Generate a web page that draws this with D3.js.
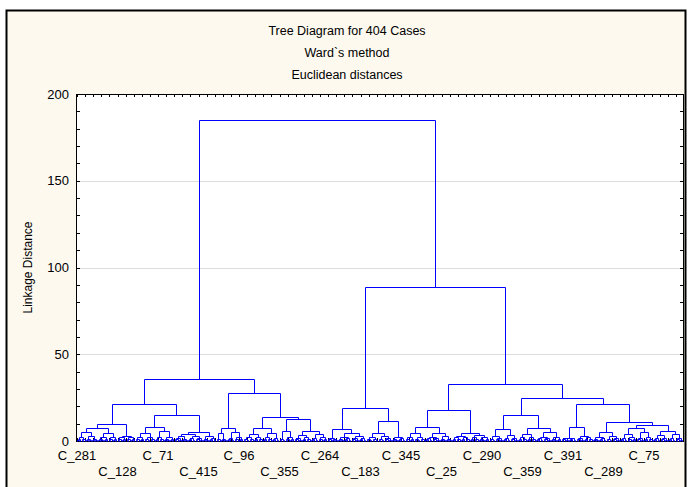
<!DOCTYPE html>
<html lang="en">
  <head>
    <meta charset="utf-8">
    <title>Tree Diagram for 404 Cases</title>
    <style>
      body { margin: 0; background: #ffffff; }
      svg { display: block; font-family: "Liberation Sans", Arial, sans-serif; }
    </style>
    <script src="https://cdn.jsdelivr.net/npm/d3@7"></script>
  </head>
  <body>
    <svg id="chart" width="689" height="487"></svg>
    <script>
      // ---- data ----
      var titleLines = ["Tree Diagram for 404 Cases", "Ward`s method", "Euclidean distances"];
      var yTitle = "Linkage Distance";
      var yTicks = [0, 50, 100, 150, 200];
      var caseLabels = ["C_281", "C_128", "C_71", "C_415", "C_96", "C_355", "C_264", "C_183",
                        "C_345", "C_25", "C_290", "C_359", "C_391", "C_289", "C_75"];
      var labelEvery = 27;   // one case label every 27 leaves

      // merge tree: [linkage distance, left, right]; a plain number n = small group of n cases
      var leftBranch = [35.7,
        [21.3,
          [9.6,
            [7.3, [5.4, 6, 8], [4.6, 7, 6]],
            [2.9, 6, 6]],
          [15,
            [7.9, [4.6, 6, 7], [5.6, 6, 7]],
            [5, [4.2, 9, 10], [3, 4, 5]]]],
        [27.7,
          [7.6, [4.5, 3, 4], [5.3, 5, 6]],
          [14,
            [7.3, [3.8, 7, 6], [4.8, 6, 5]],
            [12.5, [5.8, 4, 6], [5.8, [3.2, 5, 6], [4, 5, 6]]]]]];

      var rightBranch = [89,
        [18.9,
          [6.7, [1.8, 3, 4], [4.4, [2.5, 4, 5], [3, 5, 5]]],
          [11.7, [4.6, [2.5, 4, 4], [3, 4, 5]], [2.5, 4, 5]]],
        [33,
          [17.9,
            [7.9, [4.6, 6, 7], [4.8, [2.5, 5, 5], 8]],
            [4.4, [2.8, 6, 6], [3.2, 6, 7]]],
          [25,
            [15, [6.7, [3, 4, 5], [3.6, 5, 5]], [7.3, [4, 6, 6], [5.2, [2.5, 5, 5], 7]]],
            [21.1,
              [8.2, [2, 5, 5], [3, 5, 6]],
              [10.8,
                [5, [2.5, 4, 5], [3, 4, 5]],
                [9.2, [7.3, [4, 5, 6], [5, 5, 6]], [5.8, [3.5, 5, 5], [4, 5, 5]]]]]]]];

      var rootDistance = 185;
      // top merge distance inside the small groups, by group size (index = size)
      var groupDistance = [0, 0, 0.6, 1.0, 1.4, 1.8, 2.1, 2.4, 2.7];

      // ---- layout ----
      var width = 689, height = 487;
      var plot = { left: 76, right: 683, top: 94, bottom: 441 };

      var svg = d3.select("#chart");

      svg.append("rect")
        .attr("x", 0).attr("y", 0).attr("width", width).attr("height", height)
        .attr("fill", "#ffffff");
      svg.append("rect")
        .attr("x", 6.5).attr("y", 10.5).attr("width", 679).attr("height", 490)
        .attr("fill", "#fdf9ef").attr("stroke", "#000").attr("stroke-width", 2);

      function buildGroup(n, cap) {
        if (n === 1) return { h: 0 };
        var a = Math.ceil(n / 2), b = n - a;
        var h = Math.min(groupDistance[Math.min(n, 8)], cap * 0.8);
        return { h: h, children: [buildGroup(a, h), buildGroup(b, h)] };
      }
      function build(t, cap) {
        if (!Array.isArray(t)) return buildGroup(t, cap);
        return { h: t[0], children: [build(t[1], t[0]), build(t[2], t[0])] };
      }
      var root = d3.hierarchy({ h: rootDistance, children: [build(leftBranch, rootDistance), build(rightBranch, rootDistance)] });
      var leaves = root.leaves();
      leaves.forEach(function (d, i) { d.index = i; });

      var x = d3.scalePoint().domain(d3.range(leaves.length)).range([plot.left + 1, plot.right - 1.5]);
      var y = d3.scaleLinear().domain([0, 200]).range([plot.bottom, plot.top]);
      function snap(v) { return Math.round(v) + 0.5; }

      root.eachAfter(function (d) {
        d.px = d.children ? d3.mean(d.children, function (c) { return c.px; }) : x(d.index);
      });

      // plot background and grid
      svg.append("rect")
        .attr("x", plot.left).attr("y", plot.top)
        .attr("width", plot.right - plot.left).attr("height", plot.bottom - plot.top)
        .attr("fill", "#ffffff");
      svg.append("g").selectAll("line").data([50, 100, 150]).join("line")
        .attr("x1", plot.left).attr("x2", plot.right)
        .attr("y1", function (d) { return snap(y(d)); })
        .attr("y2", function (d) { return snap(y(d)); })
        .attr("stroke", "#dcdcdc");

      // inward ticks on all four sides
      var ax = svg.append("g").attr("stroke", "#000").attr("shape-rendering", "crispEdges");
      var minorY = d3.range(0, 201, 10);
      ax.selectAll("line.yl").data(minorY).join("line").attr("class", "yl")
        .attr("x1", plot.left).attr("x2", plot.left + 4)
        .attr("y1", function (d) { return snap(y(d)); })
        .attr("y2", function (d) { return snap(y(d)); });
      ax.selectAll("line.yr").data(minorY).join("line").attr("class", "yr")
        .attr("x1", plot.right - 3).attr("x2", plot.right)
        .attr("y1", function (d) { return snap(y(d)); })
        .attr("y2", function (d) { return snap(y(d)); });
      var xt = d3.scaleLinear().domain([0, leaves.length - 1]).range([x(0), x(leaves.length - 1)]);
      var xTickIdx = d3.range(0, leaves.length - 1, labelEvery / 5);
      ax.selectAll("line.xt").data(xTickIdx).join("line").attr("class", "xt")
        .attr("x1", function (d) { return snap(xt(d)); })
        .attr("x2", function (d) { return snap(xt(d)); })
        .attr("y1", plot.top).attr("y2", plot.top + 3);
      ax.selectAll("line.xb").data(xTickIdx).join("line").attr("class", "xb")
        .attr("x1", function (d) { return snap(xt(d)); })
        .attr("x2", function (d) { return snap(xt(d)); })
        .attr("y1", plot.bottom - 3).attr("y2", plot.bottom);

      svg.append("rect")
        .attr("x", plot.left + 0.5).attr("y", plot.top + 0.5)
        .attr("width", plot.right - plot.left).attr("height", plot.bottom - plot.top)
        .attr("fill", "none").attr("stroke", "#000");

      // dendrogram links
      var links = [];
      root.each(function (d) {
        if (!d.children) return;
        var a = d.children[0], b = d.children[1];
        links.push("M" + snap(a.px) + "," + snap(y(a.data.h)) + "V" + snap(y(d.data.h)) +
                   "H" + snap(b.px) + "V" + snap(y(b.data.h)));
      });
      svg.append("g").selectAll("path").data(links).join("path")
        .attr("d", function (d) { return d; })
        .attr("fill", "none").attr("stroke", "#0000ff").attr("stroke-width", 1);

      // y labels
      svg.append("g").selectAll("text").data(yTicks).join("text")
        .attr("x", 69).attr("y", function (d) { return y(d); })
        .attr("dy", "0.35em").attr("text-anchor", "end")
        .attr("font-size", 13).attr("fill", "#000")
        .text(function (d) { return d; });

      svg.append("text")
        .attr("transform", "translate(32," + ((plot.top + plot.bottom) / 2) + ") rotate(-90)")
        .attr("text-anchor", "middle").attr("font-size", 12).attr("fill", "#000")
        .text(yTitle);

      // case labels, alternating two rows
      svg.append("g").selectAll("text").data(caseLabels).join("text")
        .attr("x", function (d, i) { return x(i * labelEvery); })
        .attr("y", function (d, i) { return i % 2 ? 476 : 460; })
        .attr("text-anchor", "middle").attr("font-size", 13).attr("fill", "#000")
        .text(function (d) { return d; });

      // titles
      svg.append("g").selectAll("text").data(titleLines).join("text")
        .attr("x", 347).attr("y", function (d, i) { return 35 + i * 22; })
        .attr("text-anchor", "middle").attr("font-size", 12.5).attr("fill", "#000")
        .text(function (d) { return d; });
    </script>
  </body>
</html>
